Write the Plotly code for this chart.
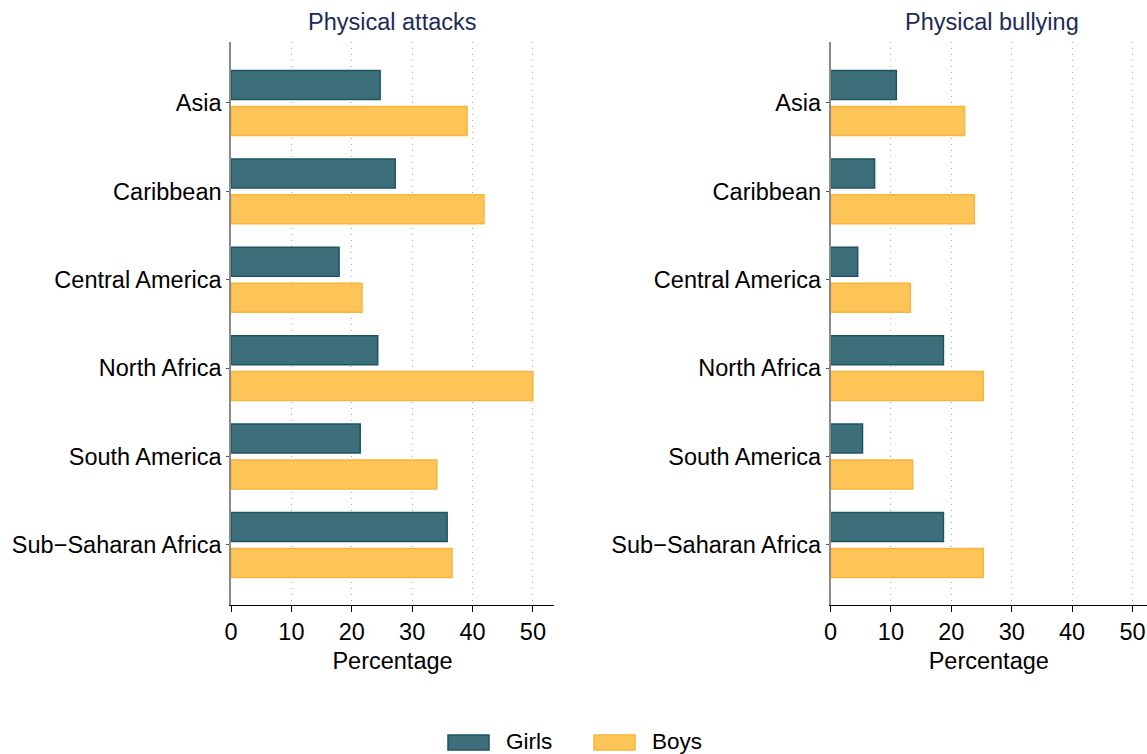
import plotly.graph_objects as go
from plotly.subplots import make_subplots

regions = ["Asia", "Caribbean", "Central America", "North Africa",
           "South America", "Sub\u2212Saharan Africa"]

attacks_girls = [24.7, 27.2, 17.9, 24.3, 21.4, 35.8]
attacks_boys = [39.1, 41.9, 21.7, 50.0, 34.1, 36.6]

bullying_girls = [10.9, 7.3, 4.5, 18.7, 5.3, 18.7]
bullying_boys = [22.2, 23.8, 13.2, 25.3, 13.6, 25.3]

panel_titles = ["Physical attacks", "Physical bullying"]
x_ticks = [0, 10, 20, 30, 40, 50]

GIRLS_FILL = "#3c6f7a"
GIRLS_LINE = "#1d5461"
BOYS_FILL = "#fdc457"
BOYS_LINE = "#f8b53c"
TITLE_COLOR = "#1c2b57"
FONT = "Liberation Sans, Arial, Helvetica, sans-serif"
FS = 23.5

W, H = 1147, 754

fig = make_subplots(rows=1, cols=2)

panels = [(attacks_girls, attacks_boys), (bullying_girls, bullying_boys)]
for col, (girls, boys) in enumerate(panels, start=1):
    fig.add_trace(go.Bar(y=regions, x=girls, orientation="h", name="Girls",
                         marker=dict(color=GIRLS_FILL,
                                     line=dict(color=GIRLS_LINE, width=1.5)),
                         showlegend=False), row=1, col=col)
    fig.add_trace(go.Bar(y=regions, x=boys, orientation="h", name="Boys",
                         marker=dict(color=BOYS_FILL,
                                     line=dict(color=BOYS_LINE, width=1.5)),
                         showlegend=False), row=1, col=col)

y_dom = [1 - 605 / H, 1 - 42 / H]
x_doms = [[231 / W, 554 / W], [830.5 / W, 1.0]]
x_ranges = [[0, 53.5], [0, 52.4]]
title_centers = [392.5 / W, 992 / W]

for i in range(2):
    xa = "xaxis" if i == 0 else "xaxis2"
    ya = "yaxis" if i == 0 else "yaxis2"
    fig.layout[xa].update(
        domain=x_doms[i], range=x_ranges[i], tickvals=x_ticks, automargin=False,
        showgrid=True, gridcolor="#a8a8a8", griddash="1px,5px", gridwidth=1,
        zeroline=False, showline=True, linecolor="black", linewidth=1.3,
        ticks="outside", ticklen=6, tickcolor="black",
        tickfont=dict(size=FS, color="black", family=FONT),
        title=dict(text="Percentage", font=dict(size=FS, color="black", family=FONT),
                   standoff=8),
    )
    fig.layout[ya].update(
        domain=y_dom, range=[5.68, -0.69], type="category", automargin=False,
        showgrid=False, zeroline=False, showline=True, linecolor="#8a8a8a",
        linewidth=1.5, ticks="outside", ticklen=3, tickcolor="#555555",
        tickfont=dict(size=FS, color="black", family=FONT),
    )

# panel titles
for i, title in enumerate(panel_titles):
    fig.add_annotation(text=title, x=title_centers[i], y=1 - 22 / H,
                       xref="paper", yref="paper",
                       showarrow=False, xanchor="center", yanchor="middle",
                       font=dict(size=FS, color=TITLE_COLOR, family=FONT))

# legend drawn below both panels
legend_items = [("Girls", GIRLS_FILL, GIRLS_LINE, 448), ("Boys", BOYS_FILL, BOYS_LINE, 594)]
for label, fill, line, px in legend_items:
    fig.add_shape(type="rect", xref="paper", yref="paper",
                  x0=px / W, x1=(px + 41) / W,
                  y0=1 - 750 / H, y1=1 - 735 / H,
                  fillcolor=fill, line=dict(color=line, width=1.5))
    fig.add_annotation(text=label, x=(px + 56) / W, y=1 - 741 / H,
                       xref="paper", yref="paper", showarrow=False,
                       xanchor="left", yanchor="middle",
                       font=dict(size=FS - 1, color="black", family=FONT))

fig.update_layout(
    width=W, height=H, margin=dict(l=0, r=0, t=0, b=0),
    barmode="group", bargap=0.186, bargroupgap=0.194,
    plot_bgcolor="white", paper_bgcolor="white",
    font=dict(family=FONT, size=FS, color="black"),
    showlegend=False,
)

fig.write_html("out.html")
